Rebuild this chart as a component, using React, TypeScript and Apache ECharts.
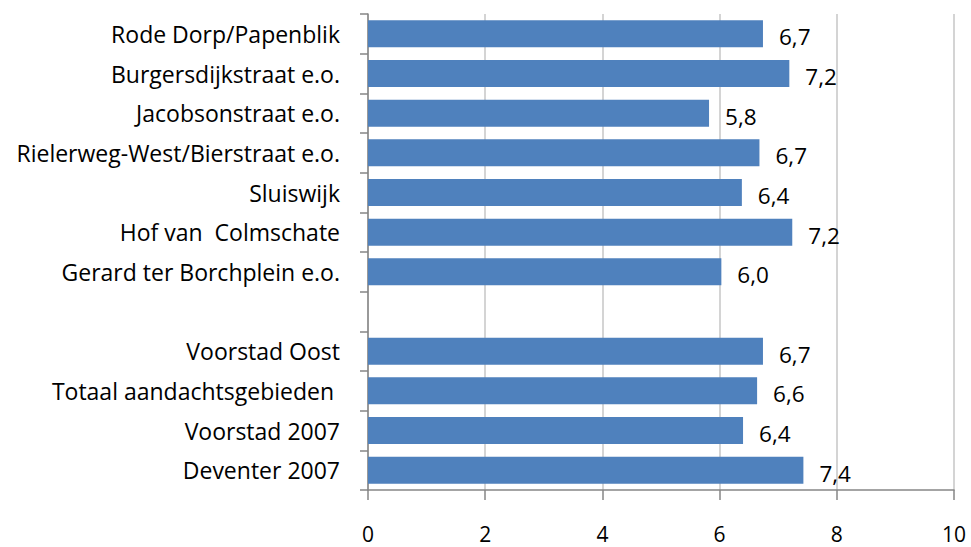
import React, { useEffect, useRef } from "react";
import * as echarts from "echarts";

const categories = [
  "Rode Dorp/Papenblik",
  "Burgersdijkstraat e.o.",
  "Jacobsonstraat e.o.",
  "Rielerweg-West/Bierstraat e.o.",
  "Sluiswijk",
  "Hof van  Colmschate",
  "Gerard ter Borchplein e.o.",
  "",
  "Voorstad Oost",
  "Totaal aandachtsgebieden ",
  "Voorstad 2007",
  "Deventer 2007",
];

const values: (number | null)[] = [6.74, 7.19, 5.82, 6.68, 6.38, 7.24, 6.03, null, 6.74, 6.64, 6.4, 7.43];

const xTicks = [0, 2, 4, 6, 8, 10];

const FONT = "Open Sans";

export default function App() {
  const ref = useRef<HTMLDivElement>(null);
  useEffect(() => {
    if (!ref.current) return;
    const chart = echarts.init(ref.current, undefined, { renderer: "svg" });
    chart.setOption({
      animation: false,
      backgroundColor: "#ffffff",
      grid: { left: 368, right: 17, top: 14, bottom: 57, containLabel: false },
      xAxis: {
        type: "value",
        min: xTicks[0],
        max: xTicks[xTicks.length - 1],
        interval: 2,
        axisLine: { show: true, lineStyle: { color: "#868686", width: 1.5 } },
        axisTick: { show: true, length: 10, lineStyle: { color: "#868686", width: 1.5 } },
        splitLine: { show: true, lineStyle: { color: "#c6c6c6", width: 1.5 } },
        axisLabel: {
          margin: 33,
          color: "#000000",
          fontFamily: FONT,
          fontSize: 21,
          lineHeight: 21,
          formatter: (v: number) => String(v),
        },
      },
      yAxis: {
        type: "category",
        data: categories,
        inverse: true,
        axisLine: { show: true, lineStyle: { color: "#868686", width: 1.5 } },
        axisTick: { show: true, length: 8, alignWithLabel: false, lineStyle: { color: "#868686", width: 1.5 } },
        splitLine: { show: false },
        axisLabel: {
          margin: 28,
          color: "#000000",
          fontFamily: FONT,
          fontSize: 23,
        },
      },
      series: [
        {
          type: "bar",
          data: values,
          barCategoryGap: "32%",
          itemStyle: { color: "#4f81bd" },
          label: {
            show: true,
            position: "right",
            distance: 16,
            offset: [0, 3],
            color: "#000000",
            fontFamily: FONT,
            fontSize: 22.5,
            formatter: (p: any) => (p.value == null ? "" : Number(p.value).toFixed(1).replace(".", ",")),
          },
        },
      ],
    });
    return () => chart.dispose();
  }, []);
  return (
    <div
      ref={ref}
      style={{ position: "fixed", left: 0, top: 0, width: 971, height: 547 }}
    />
  );
}
